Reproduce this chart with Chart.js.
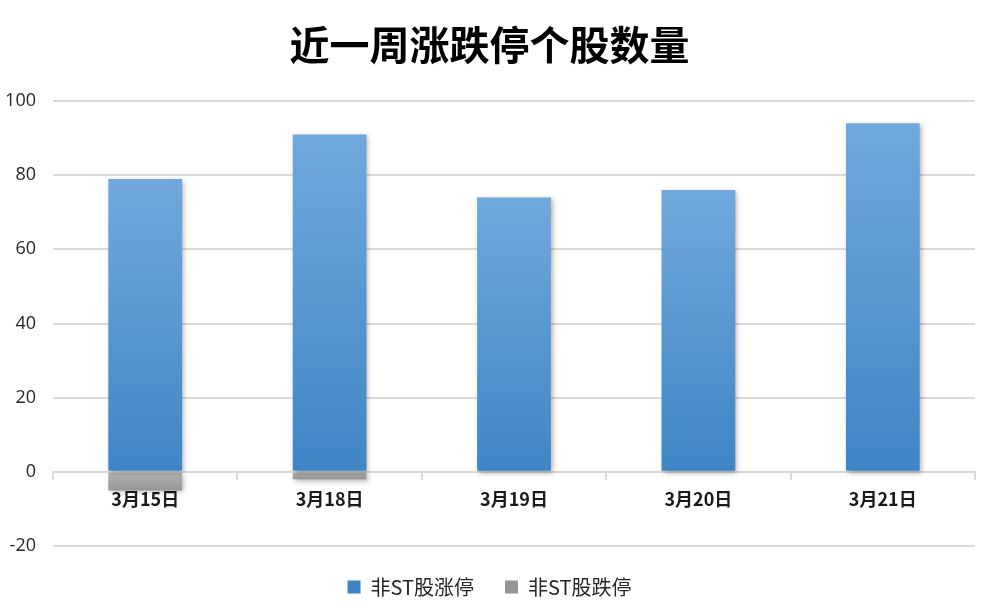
<!DOCTYPE html>
<html>
<head>
<meta charset="utf-8">
<script src="https://cdn.jsdelivr.net/npm/chart.js@4/dist/chart.umd.min.js"></script>
<style>
    body { margin: 0; background: #fff; }
    #wrap { width: 985px; height: 612px; }
</style>
</head>
<body>
<div id="wrap"><canvas id="limitChart" width="985" height="612"></canvas></div>
<script>
// Chart data
const days = ['3月15日', '3月18日', '3月19日', '3月20日', '3月21日'];
const limitUp = [79, 91, 74, 76, 94];
const limitDown = [-5, -2, 0, 0, 0];
const yTicks = [-20, 0, 20, 40, 60, 80, 100];

const numFont = "'Open Sans', 'Noto Sans', sans-serif";
const cjkFont = "'Noto Sans CJK SC', 'Noto Sans', sans-serif";

// gradient for each bar, upper edge to lower edge
function barGradient(ctx, upper, lower) {
    const chart = ctx.chart;
    const y = chart.scales.y;
    if (!chart.chartArea || !y || ctx.raw === undefined) return lower;
    const top = y.getPixelForValue(ctx.raw);
    const base = y.getPixelForValue(0);
    if (Math.abs(top - base) < 1) return lower;
    const g = chart.ctx.createLinearGradient(0, Math.min(top, base), 0, Math.max(top, base));
    g.addColorStop(0, upper);
    g.addColorStop(1, lower);
    return g;
}

// drop shadow under the bars
const barShadow = {
    id: 'barShadow',
    beforeDatasetsDraw(chart) {
        const c = chart.ctx;
        c.save();
        c.shadowColor = 'rgba(0, 0, 0, 0.3)';
        c.shadowBlur = 5;
        c.shadowOffsetX = 2;
        c.shadowOffsetY = 2;
    },
    afterDatasetsDraw(chart) {
        chart.ctx.restore();
    }
};

const chart = new Chart(document.getElementById('limitChart'), {
    type: 'bar',
    data: {
        labels: days,
        datasets: [{
            label: '非ST股涨停',
            data: limitUp,
            backgroundColor: (ctx) => ctx.type === 'data' ? barGradient(ctx, '#71a8dc', '#3f85c6') : '#5b9bd5',
            barPercentage: 0.4,
            categoryPercentage: 1
        }, {
            label: '非ST股跌停',
            data: limitDown,
            backgroundColor: (ctx) => ctx.type === 'data' ? barGradient(ctx, '#b4b4b4', '#959595') : '#a5a5a5',
            barPercentage: 0.4,
            categoryPercentage: 1
        }]
    },
    options: {
        responsive: false,
        animation: false,
        layout: { padding: { left: 4, right: 10, top: 0, bottom: 5 } },
        scales: {
            x: {
                stacked: true,
                position: { y: 0 },
                grid: {
                    drawOnChartArea: false,
                    drawTicks: true,
                    tickLength: 7,
                    color: '#d9d9d9',
                    lineWidth: 2
                },
                border: { color: '#d9d9d9', width: 2 },
                ticks: {
                    padding: 10,
                    color: '#1a1a1a',
                    font: { family: cjkFont, size: 18, weight: 'bold' }
                }
            },
            y: {
                stacked: true,
                min: -20,
                max: 100,
                afterBuildTicks: (scale) => { scale.ticks = yTicks.map(v => ({ value: v })); },
                afterFit: (scale) => { scale.width = 49; },
                grid: { color: '#d9d9d9', lineWidth: 2, drawTicks: false },
                border: { display: false },
                ticks: {
                    padding: 17,
                    color: '#262626',
                    font: { family: numFont, size: 18 }
                }
            }
        },
        plugins: {
            title: {
                display: true,
                text: '近一周涨跌停个股数量',
                color: '#000',
                font: { family: cjkFont, size: 40, weight: 'bold' },
                padding: { top: 21, bottom: 32 }
            },
            legend: {
                position: 'bottom',
                labels: {
                    boxWidth: 13,
                    boxHeight: 13,
                    padding: 31,
                    color: '#262626',
                    font: { family: cjkFont, size: 20 }
                }
            },
            tooltip: { enabled: false }
        }
    },
    plugins: [barShadow]
});
</script>
</body>
</html>
